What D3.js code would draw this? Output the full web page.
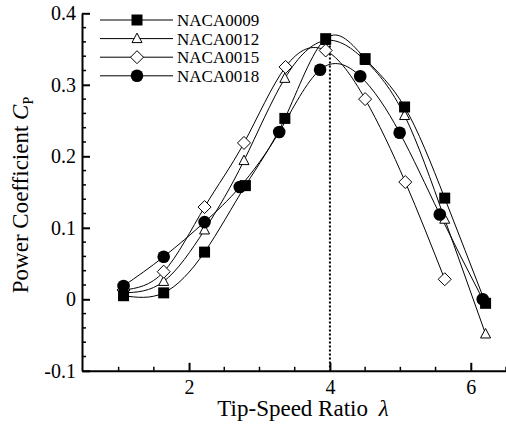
<!DOCTYPE html>
<html><head><meta charset="utf-8">
<script src="https://cdn.jsdelivr.net/npm/d3@7"></script>
<style>body{margin:0;background:#fff}svg{display:block}svg text{font-family:"Liberation Serif","Times New Roman",Times,"DejaVu Serif",serif !important;fill:#000}</style>
</head><body><svg id="c" width="506" height="425"></svg>
<script>
const seriesNames = ["NACA0009","NACA0012","NACA0015","NACA0018"];
const x0009 = [1.07,1.64,2.22,2.80,3.36,3.94,4.50,5.06,5.63,6.21];
const y0009 = [0.005,0.009,0.066,0.159,0.253,0.3645,0.3366,0.269,0.1415,-0.0056];
const x0012 = [1.07,1.64,2.22,2.78,3.36,3.94,4.50,5.06,5.63,6.21];
const y0012 = [0.009,0.025,0.097,0.194,0.309,0.362,0.334,0.257,0.112,-0.0485];
const x0015 = [1.07,1.64,2.22,2.78,3.37,3.94,4.50,5.07,5.63];
const y0015 = [0.013,0.0386,0.129,0.2187,0.325,0.348,0.28,0.164,0.028];
const x0018 = [1.07,1.64,2.22,2.72,3.28,3.86,4.43,4.99,5.56,6.17];
const y0018 = [0.0186,0.0595,0.108,0.157,0.234,0.321,0.312,0.233,0.1187,0.0];
const xTicks = [2,4,6];
const yTicks = [-0.1,0,0.1,0.2,0.3,0.4];
const yTickLabels = ["-0.1","0","0.1","0.2","0.3","0.4"];
const peakLambda = 4;

const FONT = '"Liberation Serif","Times New Roman",Times,"DejaVu Serif",serif';
const svg = d3.select("#c");
const x = d3.scaleLinear().domain([0.48,6.5]).range([82,506]);
const y = d3.scaleLinear().domain([-0.1,0.4]).range([370.8,13.3]);

const xMinor = d3.range(1,6.51,0.5).filter(v=>xTicks.indexOf(v)<0);
const yMinor = d3.range(-0.08,0.4,0.02).map(v=>+v.toFixed(2)).filter(v=>!yTicks.some(t=>Math.abs(t-v)<1e-6));

const gx = svg.append("g").attr("transform","translate(0,370.8)");
gx.call(d3.axisBottom(x).tickValues(xTicks).tickSizeInner(-8).tickSizeOuter(0).tickPadding(23).tickFormat(d3.format("d")));
gx.attr("font-family",FONT);
gx.selectAll(".tick line").attr("stroke-width",2);
gx.selectAll(".tick text").style("font-size","20px").attr("dy","0em");
gx.select(".domain").attr("stroke-width",2);
gx.selectAll(".mt").data(xMinor).join("line").attr("x1",d=>x(d)).attr("x2",d=>x(d)).attr("y1",0).attr("y2",-4).attr("stroke","#000").attr("stroke-width",1.5);

const gy = svg.append("g").attr("transform","translate(82,0)");
gy.call(d3.axisLeft(y).tickValues(yTicks).tickSizeInner(-8).tickSizeOuter(0).tickPadding(6).tickFormat((d,i)=>yTickLabels[i]));
gy.attr("font-family",FONT);
gy.selectAll(".tick line").attr("stroke-width",2);
gy.selectAll(".tick text").style("font-size","20px").attr("dy","0.32em");
gy.select(".domain").attr("stroke-width",2);
gy.selectAll(".mt").data(yMinor).join("line").attr("y1",d=>y(d)).attr("y2",d=>y(d)).attr("x1",0).attr("x2",4).attr("stroke","#000").attr("stroke-width",1.5);

svg.append("line").attr("x1",x(peakLambda)).attr("x2",x(peakLambda)).attr("y1",y(0.366)).attr("y2",y(-0.1))
  .attr("stroke","#000").attr("stroke-width",2).attr("stroke-dasharray","2,2");

const series = [
  {name:seriesNames[1], xs:x0012, ys:y0012, m:"tri"},
  {name:seriesNames[2], xs:x0015, ys:y0015, m:"dia"},
  {name:seriesNames[0], xs:x0009, ys:y0009, m:"sq"},
  {name:seriesNames[3], xs:x0018, ys:y0018, m:"cir"}
];
const line = d3.line().x(d=>x(d[0])).y(d=>y(d[1])).curve(d3.curveNatural);
series.forEach(s=>{
  const pts = s.xs.map((v,i)=>[v,s.ys[i]]);
  svg.append("path").attr("d",line(pts)).attr("fill","none").attr("stroke","#000").attr("stroke-width",1);
});
function marker(g,type,cx,cy){
  if(type==="sq") g.append("rect").attr("x",cx-5.5).attr("y",cy-5.5).attr("width",11).attr("height",11).attr("fill","#000");
  else if(type==="cir") g.append("circle").attr("cx",cx).attr("cy",cy).attr("r",6.3).attr("fill","#000");
  else if(type==="tri") g.append("path").attr("d",`M${cx},${cy-5.5}L${cx+5},${cy+4}L${cx-5},${cy+4}Z`).attr("fill","#fff").attr("stroke","#000").attr("stroke-width",1);
  else g.append("path").attr("d",`M${cx},${cy-6.5}L${cx+6.5},${cy}L${cx},${cy+6.5}L${cx-6.5},${cy}Z`).attr("fill","#fff").attr("stroke","#000").attr("stroke-width",1);
}
series.forEach(s=>{
  const g = svg.append("g");
  s.xs.forEach((v,i)=>marker(g,s.m,x(v),y(s.ys[i])));
});

const legendTypes = ["sq","tri","dia","cir"];
seriesNames.forEach((n,i)=>{
  const cy = 20 + i*18.6;
  svg.append("line").attr("x1",100).attr("x2",173).attr("y1",cy).attr("y2",cy).attr("stroke","#000").attr("stroke-width",1);
  marker(svg,legendTypes[i],137,cy);
  svg.append("text").attr("x",177).attr("y",cy+6).attr("font-family",FONT).style("font-size","17px").text(n);
});

const xt = svg.append("text").attr("x",303).attr("y",416).attr("text-anchor","middle").attr("font-family",FONT).style("font-size","23px");
xt.append("tspan").text("Tip-Speed Ratio ");
xt.append("tspan").attr("dx",5).style("font-style","italic").text("λ");
const yt = svg.append("text").attr("transform","translate(28,195) rotate(-90)").attr("text-anchor","middle").attr("font-family",FONT).style("font-size","23px");
yt.append("tspan").text("Power Coefficient ");
yt.append("tspan").style("font-style","italic").text("C");
yt.append("tspan").attr("dy",5).style("font-size","14px").text("P");
</script></body></html>
